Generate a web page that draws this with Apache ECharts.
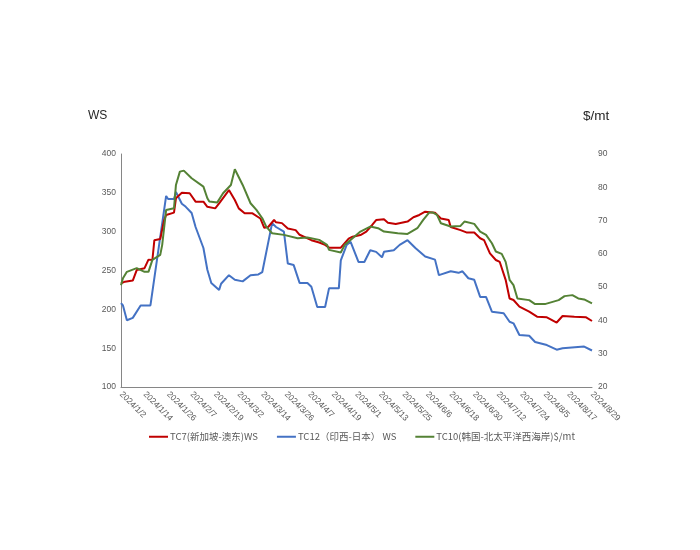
<!DOCTYPE html>
<html>
<head>
<meta charset="utf-8">
<script src="https://cdn.jsdelivr.net/npm/echarts@6/dist/echarts.min.js"></script>
<style>html,body{margin:0;padding:0;background:#fff;}#c{width:700px;height:550px;}</style>
</head>
<body>
<div id="c"></div>
<script>
// Category range: every calendar day 2024/1/2 .. 2024/8/29
const startDate = '2024/1/2';
const endDate = '2024/8/29';
const seriesNames = ['TC7(新加坡-澳东)WS', 'TC12（印西-日本） WS', 'TC10(韩国-北太平洋西海岸)$/mt'];
const leftTicks = [100, 400, 50];   // min, max, interval (WS)
const rightTicks = [20, 90, 10];    // min, max, interval ($/mt)

const tc7 = [
 ['2024/1/2',233.5],['2024/1/4',235.6],['2024/1/8',237],['2024/1/10',250.6],['2024/1/14',253],
 ['2024/1/16',264],['2024/1/18',263.5],['2024/1/19',289],['2024/1/22',290.6],['2024/1/24',315],
 ['2024/1/25',321.5],['2024/1/29',324.5],['2024/1/30',343],['2024/2/2',350],['2024/2/6',349.4],
 ['2024/2/9',338.6],['2024/2/13',338.6],['2024/2/15',332],['2024/2/19',330],['2024/2/21',336.5],
 ['2024/2/26',353.6],['2024/2/29',340.8],['2024/3/2',330],['2024/3/5',323.6],['2024/3/9',323.6],
 ['2024/3/13',317],['2024/3/15',305],['2024/3/17',306],['2024/3/20',315],['2024/3/21',312],
 ['2024/3/24',311],['2024/3/27',304],['2024/3/31',302],['2024/4/2',296],['2024/4/8',289],
 ['2024/4/12',286],['2024/4/15',283],['2024/4/17',279.4],['2024/4/23',279.4],['2024/4/27',291],
 ['2024/4/29',293.5],['2024/5/3',295.7],['2024/5/6',300],['2024/5/9',308.6],['2024/5/11',315],
 ['2024/5/15',316],['2024/5/17',311.6],['2024/5/21',310],['2024/5/27',313],['2024/5/30',318.5],
 ['2024/6/2',321.5],['2024/6/5',325.7],['2024/6/10',324.5],['2024/6/13',317],['2024/6/17',315],
 ['2024/6/18',306],['2024/6/23',302],['2024/6/26',299],['2024/6/30',299],['2024/7/3',291.5],
 ['2024/7/5',289],['2024/7/8',272],['2024/7/11',263.5],['2024/7/13',261],['2024/7/16',238],
 ['2024/7/18',214],['2024/7/20',212],['2024/7/23',203.4],['2024/7/28',197],['2024/8/1',190.5],
 ['2024/8/6',189.7],['2024/8/11',183],['2024/8/14',191.4],['2024/8/20',190.5],['2024/8/26',189.7],
 ['2024/8/29',185]
];
const tc12 = [
 ['2024/1/2',208],['2024/1/3',205],['2024/1/5',186],['2024/1/8',189],['2024/1/12',205],
 ['2024/1/17',205],['2024/1/25',346],['2024/1/26',342],['2024/1/29',342],['2024/1/30',351],
 ['2024/2/2',336],['2024/2/4',332],['2024/2/7',324],['2024/2/9',306],['2024/2/13',279],
 ['2024/2/15',251],['2024/2/17',234],['2024/2/21',225],['2024/2/22',233],['2024/2/26',244],
 ['2024/2/29',238],['2024/3/4',236],['2024/3/8',244],['2024/3/12',245],['2024/3/14',248],
 ['2024/3/15',246],['2024/3/19',311],['2024/3/21',306],['2024/3/25',300],['2024/3/27',259],
 ['2024/3/30',257],['2024/4/2',234],['2024/4/6',234],['2024/4/8',229],['2024/4/11',203],
 ['2024/4/15',203],['2024/4/17',227],['2024/4/22',227],['2024/4/23',263],['2024/4/26',283],
 ['2024/4/28',287],['2024/5/2',261],['2024/5/5',261],['2024/5/8',276],['2024/5/11',274],
 ['2024/5/14',267],['2024/5/15',274],['2024/5/20',276],['2024/5/23',283],['2024/5/27',289],
 ['2024/5/31',279],['2024/6/5',268],['2024/6/10',264],['2024/6/12',244],['2024/6/18',249],
 ['2024/6/22',247],['2024/6/24',249],['2024/6/25',247],['2024/6/27',240],['2024/6/30',238],
 ['2024/7/3',216],['2024/7/6',216],['2024/7/9',197],['2024/7/15',195],['2024/7/18',184],
 ['2024/7/20',182],['2024/7/23',167],['2024/7/28',166],['2024/7/31',158],['2024/8/6',154],
 ['2024/8/11',148],['2024/8/14',150],['2024/8/25',152],['2024/8/26',152],['2024/8/29',147]
];
const tc10 = [
 ['2024/1/2',50.6],['2024/1/3',52.7],['2024/1/5',54.6],['2024/1/10',55.7],['2024/1/14',54.6],
 ['2024/1/16',54.6],['2024/1/18',58.2],['2024/1/22',59.7],['2024/1/23',62.7],['2024/1/25',73.2],
 ['2024/1/29',73.7],['2024/1/30',80.7],['2024/2/1',84.7],['2024/2/3',85],['2024/2/4',84.4],
 ['2024/2/7',82.7],['2024/2/13',80.2],['2024/2/15',76.7],['2024/2/16',75.7],['2024/2/20',75.4],
 ['2024/2/23',78.2],['2024/2/27',80.7],['2024/2/29',85.4],['2024/3/4',80.7],['2024/3/8',75.2],
 ['2024/3/11',73.2],['2024/3/14',70.7],['2024/3/16',68.2],['2024/3/19',66.2],['2024/3/25',65.7],
 ['2024/4/1',64.7],['2024/4/6',64.9],['2024/4/12',64.2],['2024/4/16',62.7],['2024/4/17',61.2],
 ['2024/4/23',60.4],['2024/4/25',62.7],['2024/4/29',64.7],['2024/5/3',66.7],['2024/5/8',68.2],
 ['2024/5/12',67.7],['2024/5/15',66.7],['2024/5/22',66.2],['2024/5/27',66],['2024/6/1',67.7],
 ['2024/6/4',70.2],['2024/6/7',72.4],['2024/6/9',72.4],['2024/6/11',71.7],['2024/6/13',69.2],
 ['2024/6/18',68.2],['2024/6/23',68.4],['2024/6/25',69.7],['2024/6/30',69],['2024/7/3',66.7],
 ['2024/7/6',65.7],['2024/7/9',63.2],['2024/7/11',60.7],['2024/7/14',60],['2024/7/16',57.6],
 ['2024/7/18',52.2],['2024/7/20',50.6],['2024/7/22',46.6],['2024/7/28',46.1],['2024/7/31',44.9],
 ['2024/8/5',44.9],['2024/8/12',46.1],['2024/8/15',47.3],['2024/8/19',47.6],['2024/8/22',46.6],
 ['2024/8/25',46.3],['2024/8/29',45.1]
];

// build day categories
const categories = [];
(function(){
  const p = s => { const a = s.split('/').map(Number); return new Date(a[0], a[1]-1, a[2]); };
  const d = p(startDate), e = p(endDate);
  while (d <= e) {
    categories.push(d.getFullYear() + '/' + (d.getMonth()+1) + '/' + d.getDate());
    d.setDate(d.getDate() + 1);
  }
})();

const chart = echarts.init(document.getElementById('c'), null, {renderer: 'canvas'});
const labelColor = '#595959';
chart.setOption({
  animation: false,
  backgroundColor: '#fff',
  grid: {left: 121, right: 108, top: 154, bottom: 163, containLabel: false},
  graphic: [
    {type: 'text', left: 88, top: 110, style: {text: 'WS', fontSize: 12, fill: '#262626', fontFamily: 'Liberation Sans, Arial, sans-serif'}},
    {type: 'text', left: 583, top: 109, style: {text: '$/mt', fontSize: 13.5, fill: '#262626', fontFamily: 'Liberation Sans, Arial, sans-serif'}}
  ],
  legend: {
    left: 144, top: 427,
    icon: 'rect', itemWidth: 19, itemHeight: 2, itemGap: 19,
    textStyle: {fontSize: 9.5, color: labelColor, fontFamily: 'Noto Sans CJK SC, sans-serif', padding: [0,0,0,-3]},
    data: seriesNames
  },
  xAxis: {
    type: 'category',
    data: categories,
    boundaryGap: false,
    axisLine: {show: true, lineStyle: {color: '#868686', width: 1}},
    axisTick: {show: false},
    splitLine: {show: false},
    axisLabel: {interval: 11, rotate: -45, fontSize: 8.5, color: labelColor, margin: 6, fontFamily: 'Liberation Sans, Arial, sans-serif'}
  },
  yAxis: [
    {
      type: 'value', min: leftTicks[0], max: leftTicks[1], interval: leftTicks[2],
      axisLine: {show: true, lineStyle: {color: '#868686', width: 1}},
      axisTick: {show: false},
      splitLine: {show: false},
      axisLabel: {fontSize: 8.5, color: labelColor, margin: 5, fontFamily: 'Liberation Sans, Arial, sans-serif'}
    },
    {
      type: 'value', min: rightTicks[0], max: rightTicks[1], interval: rightTicks[2],
      position: 'right',
      axisLine: {show: false},
      axisTick: {show: false},
      splitLine: {show: false},
      axisLabel: {fontSize: 8.5, color: labelColor, margin: 6, fontFamily: 'Liberation Sans, Arial, sans-serif'}
    }
  ],
  series: [
    {name: seriesNames[0], type: 'line', data: tc7, yAxisIndex: 0, symbol: 'none', itemStyle: {color: '#C00000'}, lineStyle: {color: '#C00000', width: 2}, z: 3},
    {name: seriesNames[1], type: 'line', data: tc12, yAxisIndex: 0, symbol: 'none', itemStyle: {color: '#4472C4'}, lineStyle: {color: '#4472C4', width: 2}, z: 2},
    {name: seriesNames[2], type: 'line', data: tc10, yAxisIndex: 1, symbol: 'none', itemStyle: {color: '#548235'}, lineStyle: {color: '#548235', width: 2}, z: 4}
  ]
});
</script>
</body>
</html>
